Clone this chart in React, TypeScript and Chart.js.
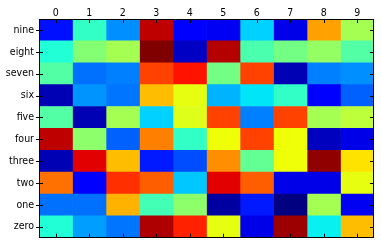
import React, { useEffect, useRef } from "react";
import { Chart, registerables } from "chart.js";

Chart.register(...registerables);

// Row labels, listed top to bottom
const rowLabels = ["nine", "eight", "seven", "six", "five", "four", "three", "two", "one", "zero"];
// Column labels along the top
const colLabels = ["0", "1", "2", "3", "4", "5", "6", "7", "8", "9"];

// Cell values (0..1), one array per row, columns 0..9
const rowNine = [0.14, 0.41, 0.265, 0.945, 0.12, 0.1, 0.33, 0.09, 0.74, 0.55];
const rowEight = [0.39, 0.51, 0.55, 1.0, 0.06, 0.955, 0.44, 0.49, 0.53, 0.45];
const rowSeven = [0.45, 0.235, 0.25, 0.84, 0.89, 0.49, 0.84, 0.045, 0.25, 0.265];
const rowSix = [0.045, 0.27, 0.24, 0.71, 0.63, 0.3, 0.35, 0.41, 0.11, 0.22];
const rowFive = [0.45, 0.045, 0.55, 0.33, 0.62, 0.84, 0.25, 0.84, 0.55, 0.58];
const rowFour = [0.945, 0.52, 0.22, 0.775, 0.41, 0.64, 0.84, 0.64, 0.055, 0.09];
const rowThree = [0.045, 0.915, 0.71, 0.15, 0.2, 0.76, 0.47, 0.64, 0.985, 0.67];
const rowTwo = [0.79, 0.12, 0.86, 0.81, 0.32, 0.915, 0.81, 0.09, 0.09, 0.63];
const rowOne = [0.235, 0.235, 0.72, 0.43, 0.52, 0.03, 0.15, 0.0, 0.55, 0.1];
const rowZero = [0.39, 0.28, 0.24, 0.96, 0.875, 0.63, 0.09, 0.975, 0.36, 0.71];

const matrix = [rowNine, rowEight, rowSeven, rowSix, rowFive, rowFour, rowThree, rowTwo, rowOne, rowZero];

// Piecewise-linear "jet" colormap
function interp(stops: number[][], v: number): number {
  for (let i = 1; i < stops.length; i++) {
    const [x0, y0] = stops[i - 1];
    const [x1, y1] = stops[i];
    if (v <= x1) return y0 + ((v - x0) / (x1 - x0)) * (y1 - y0);
  }
  return stops[stops.length - 1][1];
}
const RED = [[0, 0], [0.35, 0], [0.66, 1], [0.89, 1], [1, 0.5]];
const GREEN = [[0, 0], [0.125, 0], [0.375, 1], [0.64, 1], [0.91, 0], [1, 0]];
const BLUE = [[0, 0.5], [0.11, 1], [0.34, 1], [0.65, 0], [1, 0]];
function jet(v: number): string {
  const t = Math.max(0, Math.min(1, v));
  const r = Math.round(interp(RED, t) * 255);
  const g = Math.round(interp(GREEN, t) * 255);
  const b = Math.round(interp(BLUE, t) * 255);
  return `rgb(${r},${g},${b})`;
}

const FONT = { family: "'DejaVu Sans Condensed', 'DejaVu Sans', sans-serif", size: 10.5 };

// Black frame with short tick marks on all four sides
const framePlugin = {
  id: "frame",
  afterDraw(chart: any) {
    const { ctx, chartArea } = chart;
    const { left, right, top, bottom } = chartArea;
    const xs = chart.scales.x;
    const ys = chart.scales.y;
    ctx.save();
    ctx.strokeStyle = "#000";
    ctx.lineWidth = 1;
    ctx.beginPath();
    const len = 4;
    colLabels.forEach((_, i) => {
      const px = Math.round(xs.getPixelForValue(i + 0.5)) + 0.5;
      ctx.moveTo(px, top);
      ctx.lineTo(px, top + len);
      ctx.moveTo(px, bottom);
      ctx.lineTo(px, bottom - len);
    });
    rowLabels.forEach((_, i) => {
      const py = Math.round(ys.getPixelForValue(i)) + 0.5;
      ctx.moveTo(left - 3, py);
      ctx.lineTo(left + len, py);
      ctx.moveTo(right, py);
      ctx.lineTo(right - len, py);
    });
    ctx.stroke();
    ctx.strokeRect(Math.round(left) + 0.5, Math.round(top) + 0.5, Math.round(right - left) - 1, Math.round(bottom - top) - 1);
    ctx.restore();
  },
};

export default function App() {
  const canvasRef = useRef<HTMLCanvasElement | null>(null);

  useEffect(() => {
    if (!canvasRef.current) return;
    const datasets = colLabels.map((c, j) => ({
      label: c,
      data: rowLabels.map(() => 1),
      backgroundColor: matrix.map((row) => jet(row[j])),
      borderWidth: 0,
      barPercentage: 1,
      categoryPercentage: 1,
      stack: "grid",
    }));

    const chart = new Chart(canvasRef.current, {
      type: "bar",
      data: { labels: rowLabels, datasets },
      plugins: [framePlugin],
      options: {
        indexAxis: "y",
        animation: false,
        responsive: false,
        events: [],
        layout: { padding: { left: 0, top: 0, right: 7, bottom: 7 } },
        plugins: { legend: { display: false }, tooltip: { enabled: false } },
        scales: {
          x: {
            type: "linear",
            position: "top",
            stacked: true,
            min: 0,
            max: 10,
            afterFit: (s: any) => {
              s.height = 19;
            },
            afterBuildTicks: (s: any) => {
              s.ticks = colLabels.map((_, i) => ({ value: i + 0.5 }));
            },
            ticks: {
              autoSkip: false,
              maxRotation: 0,
              padding: -1,
              color: "#000",
              font: FONT,
              callback: (v: any) => colLabels[Math.round(Number(v) - 0.5)],
            },
            grid: { display: false, drawTicks: false, tickLength: 0 },
            border: { display: false },
          },
          y: {
            type: "category",
            stacked: true,
            afterFit: (s: any) => {
              s.width = 39;
            },
            ticks: { color: "#000", font: FONT, padding: 5, autoSkip: false },
            grid: { display: false, drawTicks: false, tickLength: 0 },
            border: { display: false },
          },
        },
      },
    });
    return () => chart.destroy();
  }, []);

  return (
    <div style={{ position: "absolute", left: 0, top: 0, width: 381, height: 249, background: "#fff" }}>
      <canvas ref={canvasRef} width={381} height={249} />
    </div>
  );
}
